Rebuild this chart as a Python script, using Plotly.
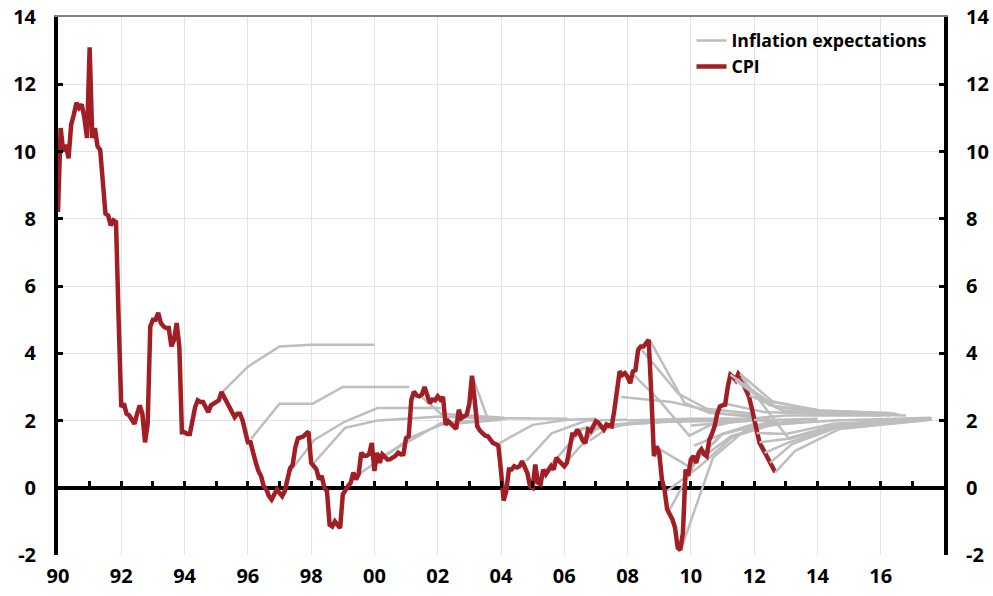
import plotly.graph_objects as go

# DATA
cpi_by_year = {
    1990: [8.2, 10.7, 10.0, 10.2, 9.8, 10.8, 11.1, 11.45, 11.3, 11.4, 11.0, 10.4],
    1991: [13.1, 10.4, 10.7, 10.15, 10.05, 9.0, 8.15, 8.1, 7.8, 7.95, 7.9, 5.0],
    1992: [2.4, 2.5, 2.2, 2.15, 2.05, 1.9, 2.2, 2.45, 2.2, 1.35, 1.9, 4.8],
    1993: [5.0, 5.0, 5.2, 4.9, 4.8, 4.75, 4.75, 4.2, 4.4, 4.9, 4.2, 1.65],
    1994: [1.65, 1.6, 1.6, 2.1, 2.4, 2.6, 2.55, 2.55, 2.4, 2.25, 2.45, 2.5],
    1995: [2.55, 2.6, 2.85, 2.7, 2.55, 2.4, 2.3, 2.1, 2.2, 2.2, 2.0, 1.6],
    1996: [1.35, 1.35, 1.0, 0.75, 0.5, 0.35, 0.05, -0.05, -0.25, -0.35, -0.2, -0.05],
    1997: [-0.15, -0.25, -0.1, 0.3, 0.58, 0.68, 1.2, 1.47, 1.5, 1.52, 1.6, 1.67],
    1998: [0.74, 0.65, 0.55, 0.25, 0.35, 0.0, -0.1, -1.1, -1.15, -1.0, -1.1, -1.2],
    1999: [-0.2, -0.05, 0.05, 0.15, 0.45, 0.25, 0.4, 1.04, 0.95, 0.95, 1.0, 1.33],
    2000: [0.5, 1.04, 0.74, 0.99, 0.9, 0.84, 0.85, 0.89, 0.95, 1.04, 0.99, 1.0],
    2001: [1.48, 1.53, 2.62, 2.86, 2.75, 2.72, 2.77, 3.0, 2.7, 2.52, 2.62, 2.6],
    2002: [2.72, 2.62, 2.7, 1.88, 1.98, 1.9, 1.8, 1.75, 2.32, 2.07, 2.12, 2.17],
    2003: [2.5, 3.33, 2.62, 1.83, 1.7, 1.63, 1.55, 1.53, 1.4, 1.33, 1.3, 1.25],
    2004: [0.5, -0.38, -0.1, 0.54, 0.54, 0.64, 0.6, 0.64, 0.79, 0.6, 0.44, 0.05],
    2005: [0.0, 0.69, 0.15, 0.1, 0.54, 0.4, 0.5, 0.64, 0.54, 0.89, 0.8, 0.7],
    2006: [0.64, 0.74, 1.23, 1.58, 1.58, 1.73, 1.58, 1.4, 1.33, 1.73, 1.68, 1.8],
    2007: [1.98, 1.93, 1.8, 1.73, 1.88, 1.85, 1.83, 2.32, 2.9, 3.46, 3.35, 3.41],
    2008: [3.3, 3.11, 3.46, 3.5, 4.1, 4.2, 4.2, 4.3, 4.4, 2.8, 0.94, 1.23],
    2009: [1.04, 0.25, -0.05, -0.64, -0.8, -0.94, -1.19, -1.78, -1.85, -1.33, 0.54, 0.35],
    2010: [0.84, 0.94, 0.74, 1.04, 1.14, 1.0, 0.94, 1.43, 1.6, 1.83, 2.2, 2.42],
    2011: [2.45, 2.47, 3.0, 3.36, 3.3, 3.2, 3.39, 3.3, 3.06, 2.9, 2.72, 2.4],
    2012: [2.02, 1.63, 1.35, 1.2, 1.04, 0.9, 0.74, 0.6, 0.46],
}

# inflation expectation paths: (dates in decimal years, values)
exp_dates = [
    [1995.2, 1996.0, 1997.0, 1998.0, 2000.0],
    [1996.1, 1997.0, 1998.05, 1999.0, 2001.1],
    [1997.35, 1998.1, 1999.07, 2000.1, 2002.1],
    [1998.05, 1999.07, 2000.1, 2002.1, 2003.9],
    [1999.35, 2001.2, 2002.1, 2004.0],
    [2000.1, 2002.1, 2004.2],
    [2001.5, 2002.1, 2004.1],
    [2003.1, 2003.6, 2004.2, 2006.1],
    [2003.9, 2005.0, 2006.1, 2007.0],
    [2004.8, 2005.6, 2006.7, 2008.0],
    [2005.4, 2006.6, 2008.0],
    [2006.1, 2007.0, 2008.1, 2009.0],
    [2006.5, 2008.5, 2011.5],
    [2006.8, 2007.5, 2009.0, 2010.0],
    [2007.3, 2008.0, 2009.0, 2011.2],
    [2008.0, 2010.0, 2012.5],
    [2007.8, 2009.4, 2011.0, 2012.0],
    [2008.2, 2009.0, 2009.95, 2011.0],
    [2008.7, 2009.8, 2010.6, 2012.0],
    [2008.45, 2009.6, 2010.5, 2012.0],
    [2008.92, 2009.95, 2011.0, 2012.0],
    [2009.3, 2010.2, 2011.0, 2012.5],
    [2009.25, 2010.3, 2011.3, 2012.6],
    [2009.7, 2010.7, 2011.7, 2013.0],
    [2010.1, 2011.0, 2012.0, 2013.5],
    [2010.0, 2012.0, 2014.0],
    [2010.5, 2011.3, 2012.5, 2014.0],
    [2010.8, 2011.8, 2013.0, 2016.0],
    [2011.1, 2012.3, 2014.0, 2016.3],
]
exp_values = [
    [2.85, 3.6, 4.2, 4.25, 4.25],
    [1.45, 2.5, 2.5, 3.0, 3.0],
    [0.5, 1.42, 1.97, 2.37, 2.37],
    [0.7, 1.78, 2.0, 2.12, 2.05],
    [0.3, 1.52, 1.87, 2.02],
    [0.85, 1.92, 2.07],
    [2.7, 2.2, 2.08],
    [3.3, 2.0, 2.07, 2.05],
    [1.3, 1.87, 2.02, 2.05],
    [0.8, 1.62, 2.0, 2.02],
    [0.5, 1.77, 1.92],
    [0.8, 1.75, 1.9, 1.95],
    [1.75, 1.95, 2.0],
    [1.4, 1.85, 1.95, 2.0],
    [1.75, 1.9, 2.0, 2.05],
    [2.0, 2.05, 2.05],
    [2.7, 2.55, 2.2, 2.1],
    [3.35, 2.6, 1.55, 2.05],
    [4.4, 2.52, 2.22, 2.15],
    [4.1, 2.8, 2.35, 2.2],
    [1.2, 0.62, 1.6, 1.9],
    [-0.7, 0.85, 1.6, 1.95],
    [-0.1, 0.65, 1.5, 1.9],
    [-1.8, 0.9, 1.7, 1.95],
    [1.25, 1.6, 1.85, 2.0],
    [1.85, 2.0, 2.05],
    [1.0, 1.55, 1.85, 2.0],
    [1.85, 2.05, 2.15, 2.15],
    [2.5, 2.25, 2.2, 2.15],
]

# paths made in 2011-2012, drawn over the CPI line
late_dates = [
    [2011.25, 2012.4, 2014.0, 2016.3],
    [2011.4, 2012.5, 2014.0, 2016.4],
    [2011.55, 2012.6, 2014.1, 2016.5],
    [2011.7, 2012.7, 2014.2, 2016.6],
    [2011.85, 2012.9, 2014.5, 2016.8],
    [2011.6, 2013.1, 2014.5, 2017.0],
    [2012.0, 2013.0, 2014.5, 2017.6],
    [2012.08, 2013.0, 2014.5, 2017.6],
    [2012.17, 2013.0, 2014.5, 2017.6],
    [2012.33, 2013.1, 2014.6, 2017.6],
    [2012.5, 2013.2, 2014.6, 2017.6],
    [2012.67, 2013.3, 2014.7, 2017.6],
]
late_values = [
    [3.36, 2.6, 2.3, 2.22],
    [3.2, 2.45, 2.28, 2.2],
    [3.39, 2.55, 2.3, 2.2],
    [3.06, 2.4, 2.25, 2.18],
    [2.75, 2.3, 2.2, 2.15],
    [3.3, 1.45, 1.8, 2.05],
    [2.02, 1.9, 2.0, 2.08],
    [1.63, 1.6, 1.9, 2.05],
    [1.35, 1.45, 1.85, 2.05],
    [1.04, 1.35, 1.8, 2.03],
    [0.74, 1.3, 1.78, 2.03],
    [0.46, 1.1, 1.75, 2.02],
]

year_ticks = list(range(1990, 2017, 2))
year_labels = ["90", "92", "94", "96", "98", "00", "02", "04", "06", "08", "10", "12", "14", "16"]
y_ticks = [-2, 0, 2, 4, 6, 8, 10, 12, 14]
y_labels = ["-2", "0", "2", "4", "6", "8", "10", "12", "14"]

RED = "#A21E25"
GREY = "#BEBEBE"

cpi_x, cpi_y = [], []
for yr, vals in cpi_by_year.items():
    for m, v in enumerate(vals):
        cpi_x.append(yr + m / 12)
        cpi_y.append(v)


def joined(dates, values):
    xs, ys = [], []
    for d, v in zip(dates, values):
        xs += d + [None]
        ys += v + [None]
    return xs, ys


ex_x, ex_y = joined(exp_dates, exp_values)
lx, ly = joined(late_dates, late_values)

# CREATE FIGURE
fig = go.Figure()
fig.add_trace(go.Scatter(x=ex_x, y=ex_y, mode="lines", name="Inflation expectations",
                         line=dict(color=GREY, width=2.5), legendgroup="exp"))
fig.add_trace(go.Scatter(x=cpi_x, y=cpi_y, mode="lines", name="CPI",
                         line=dict(color=RED, width=4.5)))
fig.add_trace(go.Scatter(x=lx, y=ly, mode="lines", showlegend=False,
                         line=dict(color=GREY, width=2.5), legendgroup="exp"))
# dummy traces so the extra axes get drawn
fig.add_trace(go.Scatter(x=[1990], y=[0], xaxis="x2", yaxis="y2", mode="markers",
                         marker=dict(opacity=0), showlegend=False, hoverinfo="skip"))
fig.add_trace(go.Scatter(x=[1990], y=[0], xaxis="x3", yaxis="y", mode="markers",
                         marker=dict(opacity=0), showlegend=False, hoverinfo="skip"))

tick_font = dict(family="Open Sans", size=20, color="black", weight="bold")
xr = [1990, 2018]
yr_ = [-2, 14]

# LAYOUT
fig.update_layout(
    width=993, height=596,
    margin=dict(l=58, r=49, t=17, b=41, autoexpand=False),
    paper_bgcolor="white", plot_bgcolor="white",
    font=dict(family="Open Sans", color="black"),
    showlegend=True,
    legend=dict(x=0.715, y=0.99, xanchor="left", yanchor="top",
                bgcolor="rgba(0,0,0,0)", itemwidth=30, tracegroupgap=0,
                font=dict(family="Open Sans", size=17.7, color="black", weight="bold")),
    xaxis=dict(range=xr, tickvals=year_ticks, ticktext=year_labels, showgrid=True,
               gridcolor="#E3E3E3", gridwidth=1, showline=False, ticks="", zeroline=False,
               tickfont=tick_font, ticklabelstandoff=7, automargin=False),
    xaxis2=dict(range=xr, overlaying="x", anchor="free", position=0.125, side="bottom",
                tickvals=list(range(1990, 2018)), ticks="inside", ticklen=7, tickwidth=3,
                tickcolor="black", showticklabels=False, showgrid=False, showline=False,
                zeroline=False, automargin=False),
    xaxis3=dict(range=xr, overlaying="x", anchor="y", side="top", showline=True,
                linecolor="#808080", linewidth=2, ticks="", showticklabels=False,
                showgrid=False, zeroline=False, automargin=False),
    yaxis=dict(range=yr_, tickvals=y_ticks, ticktext=y_labels, showgrid=True,
               gridcolor="#E3E3E3", gridwidth=1,
               zeroline=True, zerolinecolor="black", zerolinewidth=4,
               showline=True, linecolor="black", linewidth=4,
               ticks="inside", ticklen=5, tickwidth=3, tickcolor="black",
               tickfont=tick_font, ticklabelstandoff=14, automargin=False),
    yaxis2=dict(range=yr_, tickvals=y_ticks, ticktext=y_labels, overlaying="y",
                side="right", anchor="x",
                showgrid=False, zeroline=False, showline=True, linecolor="black",
                linewidth=4, ticks="inside", ticklen=5, tickwidth=3, tickcolor="black",
                tickfont=tick_font, ticklabelstandoff=14, automargin=False),
)

# SHOW (drop the default 8px page margin so the figure fills the window)
fig.write_html("out.html", config={"displayModeBar": False},
               post_script="document.body.style.margin = '0px';")
